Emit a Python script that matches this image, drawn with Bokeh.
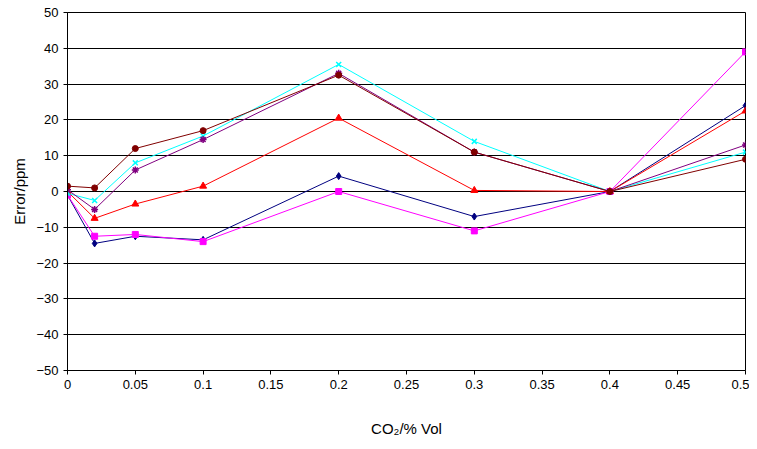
from bokeh.plotting import figure
from bokeh.models import FixedTicker, Range1d
from bokeh.embed import file_html
from bokeh.resources import INLINE

x = [0, 0.02, 0.05, 0.1, 0.2, 0.3, 0.4, 0.5]
navy = [-1, -14.5, -12.5, -13.5, 4.3, -7, 0, 24]
magenta = [-1, -12.5, -12, -14, 0, -11, 0, 39]
red = [0, -7.5, -3.5, 1.5, 20.5, 0.3, 0, 22.5]
cyan = [-0.5, -2.5, 8, 15.5, 35.5, 14, 0, 11]
purple = [0.5, -5, 6, 14.5, 33, 11, 0, 13]
brown = [1.5, 1, 12, 17, 32.5, 11, 0, 9]

p = figure(width=749, height=441, output_backend="svg", toolbar_location=None,
           x_range=Range1d(0, 0.5), y_range=Range1d(-50, 50),
           min_border_left=67, min_border_right=4, min_border_top=12, min_border_bottom=71,
           x_axis_label="CO\u2082/% Vol", y_axis_label="Error/ppm")
p.outline_line_color = "black"
p.xgrid.grid_line_color = None
p.ygrid.grid_line_color = "black"
p.ygrid.grid_line_alpha = 1
p.ygrid.ticker = FixedTicker(ticks=list(range(-50, 51, 10)))
p.yaxis.ticker = FixedTicker(ticks=list(range(-50, 51, 10)))
xt = [0, 0.05, 0.1, 0.15, 0.2, 0.25, 0.3, 0.35, 0.4, 0.45, 0.5]
p.xaxis.ticker = FixedTicker(ticks=xt)
p.xaxis.major_label_overrides = {t: ("0" if t == 0 else f"{t:g}") for t in xt}
for ax in (p.xaxis, p.yaxis):
    ax.axis_line_color = "black"
    ax.major_tick_line_color = "black"
    ax.minor_tick_line_color = None
    ax.major_label_text_font = "Arial"
    ax.major_label_text_font_size = "13px"
    ax.major_label_text_color = "black"
    ax.axis_label_text_font = "Arial"
    ax.axis_label_text_font_size = "15px"
    ax.axis_label_text_font_style = "normal"
    ax.axis_label_text_color = "black"
    ax.major_tick_out = 4
    ax.major_tick_in = 0
p.xaxis.axis_label_standoff = 28

p.line(x, navy, line_color="navy", line_width=1)
p.scatter(x, navy, marker="diamond", size=7, color="navy")
p.line(x, magenta, line_color="magenta", line_width=1)
p.scatter(x, magenta, marker="square", size=6, color="magenta")
p.line(x, red, line_color="red", line_width=1)
p.scatter(x, red, marker="triangle", size=7, color="red")
p.line(x, cyan, line_color="cyan", line_width=1)
p.scatter(x, cyan, marker="x", size=7, line_color="cyan", line_width=1.5)
p.line(x, purple, line_color="purple", line_width=1)
p.scatter(x, purple, marker="asterisk", size=7, line_color="purple", line_width=1.5)
p.line(x, brown, line_color="#800000", line_width=1)
p.scatter(x, brown, marker="circle", size=6, color="#800000")

open("out.html", "w").write(file_html(p, INLINE))
